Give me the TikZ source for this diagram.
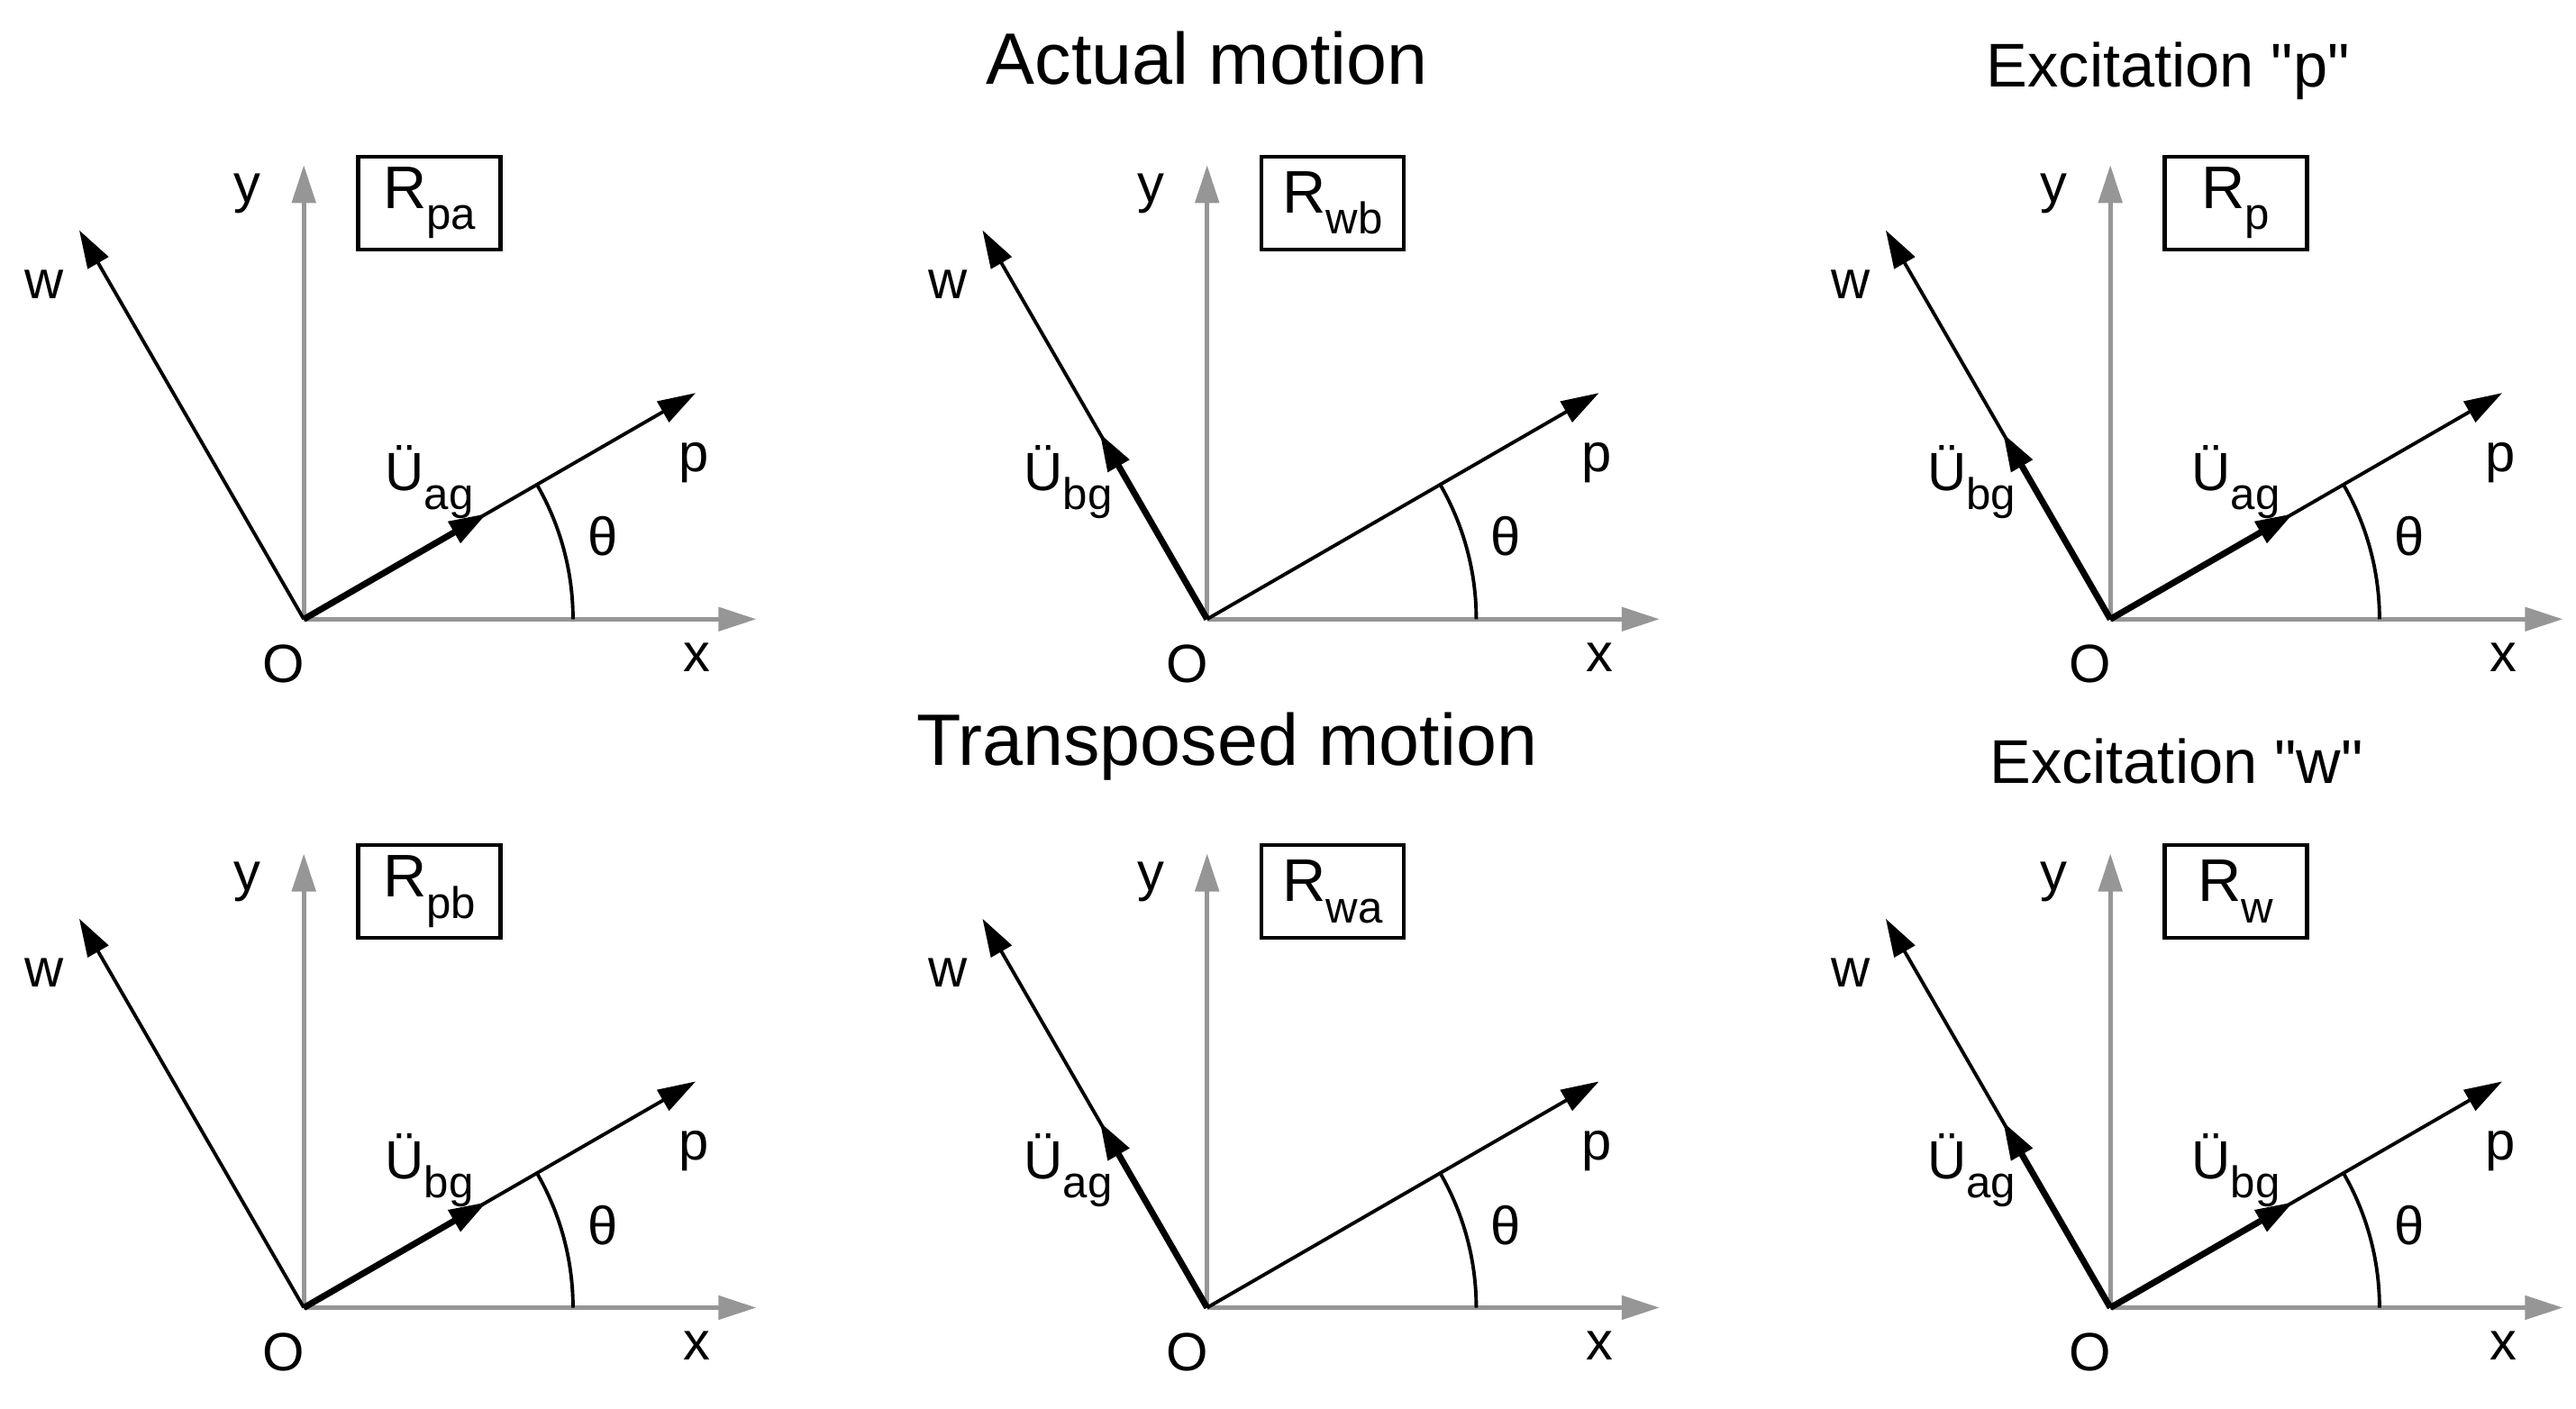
\documentclass[tikz,border=0pt]{standalone}
\usepackage{fontspec}
\setmainfont{Liberation Sans}
\usetikzlibrary{arrows.meta}
\newcommand{\mysub}[1]{\raisebox{-0.35em}{\fontsize{14}{14}\selectfont #1}}
\definecolor{axgray}{RGB}{150,150,150}
\tikzset{
  ax/.style={draw=axgray,line width=1.4pt,-{Triangle[length=0.42cm,width=0.26cm]}},
  vec/.style={draw=black,line width=1.1pt,-{Triangle[length=0.42cm,width=0.26cm]}},
  acc/.style={draw=black,line width=2pt,-{Triangle[length=0.42cm,width=0.26cm]}},
  lab/.style={font=\fontsize{17}{17}\selectfont,inner sep=0pt},
  rbox/.style={draw,line width=1.2pt,minimum width=1.58cm,minimum height=1.03cm,font=\fontsize{19}{19}\selectfont,inner sep=0pt},
}
% #1 prefix, #2 x, #3 y, #4 box content, #5 p-acc label (empty = none), #6 w-acc label
\newcommand{\panel}[6]{%
\begin{scope}[shift={(#2,#3)}]
  \coordinate (#1O) at (0,0);
  \coordinate (#1X) at (274,0);
  \coordinate (#1Y) at (0,-275);
  \coordinate (#1P) at (-30:274);
  \coordinate (#1W) at (-120:272);
  \coordinate (#1A) at (-30:128);
  \coordinate (#1B) at (-120:130);
  \draw[ax] (#1O) -- (#1X);
  \draw[ax] (#1O) -- (#1Y);
  \draw[vec] (#1O) -- (#1P);
  \draw[vec] (#1O) -- (#1W);
  \draw[line width=1.1pt] (163,0) arc[start angle=0,end angle=-30,radius=163];
  \node[lab] (#1y) at (-34,-258) {y};
  \node[lab] (#1w) at (-157,-203) {w};
  \node[lab] (#1p) at (236,-95) {p};
  \node[lab] (#1t) at (181,-50) {θ};
  \node[lab] (#1o) at (-12,27) {O};
  \node[lab] (#1x) at (238,23) {x};
  \node[rbox] (#1box) at (76,-252) {R\mysub{#4}};
  \if\relax\detokenize{#5}\relax\else
    \draw[acc] (#1O) -- (#1A);
    \node[lab] (#1la) at (76,-83) {Ü\mysub{#5}};
  \fi
  \if\relax\detokenize{#6}\relax\else
    \draw[acc] (#1O) -- (#1B);
    \node[lab] (#1lb) at (-84,-83) {Ü\mysub{#6}};
  \fi
\end{scope}}
\begin{document}
\begin{tikzpicture}[x=0.018327cm,y=-0.018327cm]
\useasboundingbox (0,0) rectangle (1560,853);
\panel{a}{184}{375}{pa}{ag}{}
\panel{b}{731}{375}{wb}{}{bg}
\panel{c}{1278}{375}{p}{ag}{bg}
\panel{d}{184}{792}{pb}{bg}{}
\panel{e}{731}{792}{wa}{}{ag}
\panel{f}{1278}{792}{w}{bg}{ag}
\node[font=\fontsize{23}{23}\selectfont] (t1) at (731,35) {Actual motion};
\node[font=\fontsize{23}{23}\selectfont] (t2) at (743,452) {Transposed motion};
\node[font=\fontsize{19.5}{19.5}\selectfont] (t3) at (1313,43) {Excitation \textquotedbl p\textquotedbl};
\node[font=\fontsize{19.5}{19.5}\selectfont] (t4) at (1318,461) {Excitation \textquotedbl w\textquotedbl};
\end{tikzpicture}
\end{document}
